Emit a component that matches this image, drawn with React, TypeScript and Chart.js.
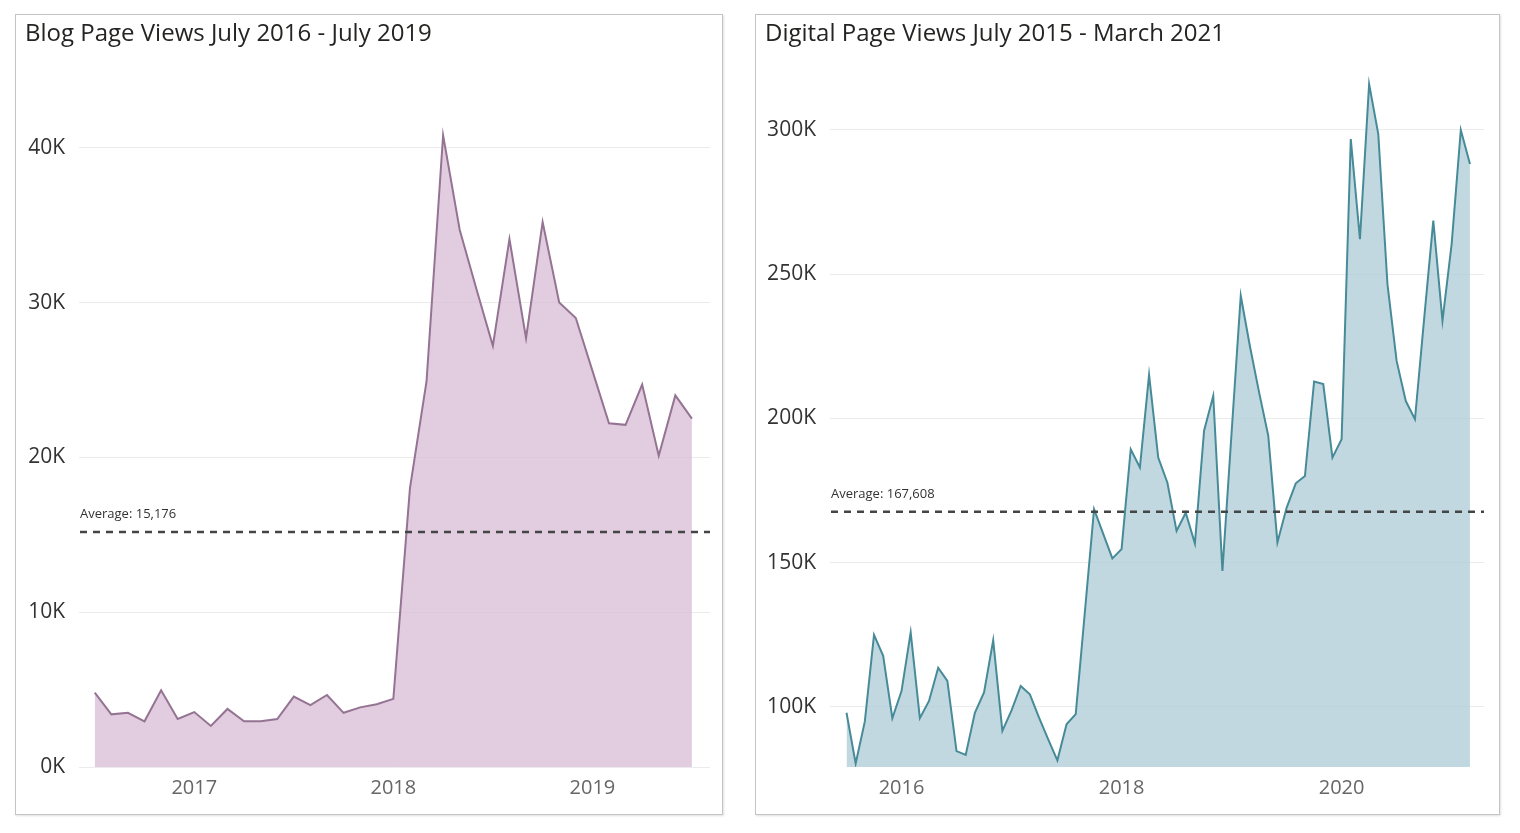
import { useEffect, useRef } from 'react';
import { Chart, registerables, type ChartConfiguration, type Plugin } from 'chart.js';

Chart.register(...registerables);

// Blog page views, one value per month, July 2016 - July 2019
const blogStartYear = 2016;
const blogStartMonth = 7;
const blogViews = [
  4800, 3400, 3500, 2950, 4950, 3100,
  3550, 2650, 3750, 2950, 2950, 3100, 4550, 4000, 4650, 3500, 3850, 4050,
  4400, 18000, 24900, 40800, 34700, 30900, 27200, 34100, 27700, 35200, 30000, 29000,
  25600, 22200, 22100, 24700, 20100, 24000, 22500,
];
const blogAverage = 15176;
const blogYearLabels = ['2017', '2018', '2019'];
const blogYTicks = [0, 10000, 20000, 30000, 40000];

// Digital page views, one value per month, July 2015 - March 2021
const digitalStartYear = 2015;
const digitalStartMonth = 7;
const digitalViews = [
  98000, 80400, 95000, 125000, 117700, 96100,
  105500, 125800, 96100, 102100, 113600, 109000, 84700, 83400, 98000, 105000, 123100, 91700,
  98800, 107300, 104400, 96300, 88800, 81500, 94000, 97500, 133000, 168500, 160000, 151500,
  154700, 189300, 183000, 215100, 186400, 177700, 161000, 167300, 156600, 195700, 207800, 147100,
  195000, 242500, 225000, 209000, 194000, 157000, 169000, 177500, 180000, 212800, 211900, 186400,
  192800, 296800, 262100, 315800, 298500, 246500, 219900, 206000, 199700, 234500, 268500, 233800,
  260400, 299900, 288100,
];
const digitalAverage = 167608;
const digitalYearLabels = ['2016', '2018', '2020'];
const digitalYTicks = [100000, 150000, 200000, 250000, 300000];

const FONT = '"Open Sans", "Noto Sans", sans-serif';

function averageLine(avg: number): Plugin<'line'> {
  return {
    id: 'averageLine',
    afterDatasetsDraw(chart) {
      const { ctx, chartArea } = chart;
      const y = chart.scales.y.getPixelForValue(avg);
      ctx.save();
      ctx.strokeStyle = '#454545';
      ctx.lineWidth = 2.5;
      ctx.setLineDash([7, 6]);
      ctx.beginPath();
      ctx.moveTo(chartArea.left + 1, y);
      ctx.lineTo(chartArea.right, y);
      ctx.stroke();
      ctx.setLineDash([]);
      ctx.fillStyle = '#333';
      ctx.font = `13px ${FONT}`;
      ctx.textBaseline = 'middle';
      ctx.fillText(`Average: ${avg.toLocaleString('en-US')}`, chartArea.left + 1, y - 18);
      ctx.restore();
    },
  };
}

interface PanelProps {
  title: string;
  values: number[];
  startYear: number;
  startMonth: number;
  yearLabels: string[];
  yTicks: number[];
  yMin: number;
  yMax: number;
  xMin: number;
  xMax: number;
  average: number;
  lineColor: string;
  fillColor: string;
  left: number;
  width: number;
  yAxisWidth: number;
  padRight: number;
}

function AreaPanel(p: PanelProps) {
  const canvasRef = useRef<HTMLCanvasElement>(null);

  useEffect(() => {
    if (!canvasRef.current) return;

    const config: ChartConfiguration<'line'> = {
      type: 'line',
      data: {
        datasets: [
          {
            data: p.values.map((v, i) => ({ x: i, y: v })),
            borderColor: p.lineColor,
            backgroundColor: p.fillColor,
            borderWidth: 2,
            fill: 'start',
            pointRadius: 0,
            tension: 0,
          },
        ],
      },
      options: {
        animation: false,
        responsive: true,
        maintainAspectRatio: false,
        layout: { padding: { top: 10, right: p.padRight, left: 0, bottom: 0 } },
        plugins: {
          legend: { display: false },
          tooltip: { enabled: false },
        },
        scales: {
          x: {
            type: 'linear',
            min: p.xMin,
            max: p.xMax,
            grid: { display: false },
            border: { display: false },
            afterBuildTicks: (scale) => {
              scale.ticks = p.yearLabels.map((y) => ({
                value: (Number(y) - p.startYear) * 12 + (1 - p.startMonth),
              }));
            },
            afterFit: (scale) => {
              scale.height = 47;
            },
            ticks: {
              maxRotation: 0,
              padding: 1,
              color: '#666',
              font: { family: FONT, size: 20 },
              callback: (v) => String(p.startYear + Math.round((Number(v) + p.startMonth - 1) / 12)),
            },
          },
          y: {
            min: p.yMin,
            max: p.yMax,
            grid: { color: '#ebebeb', drawTicks: false },
            border: { display: false },
            afterBuildTicks: (scale) => {
              scale.ticks = p.yTicks.map((value) => ({ value }));
            },
            afterFit: (scale) => {
              scale.width = p.yAxisWidth;
            },
            ticks: {
              padding: 14,
              color: '#333',
              font: { family: FONT, size: 21 },
              callback: (v) => `${Number(v) / 1000}K`,
            },
          },
        },
      },
      plugins: [averageLine(p.average)],
    };

    const chart = new Chart(canvasRef.current, config);
    return () => chart.destroy();
  }, []);

  return (
    <div
      style={{
        position: 'absolute',
        left: p.left,
        top: 14,
        width: p.width,
        height: 801,
        boxSizing: 'border-box',
        border: '1px solid #c4c4c4',
        boxShadow: '1px 1px 2px rgba(0,0,0,0.12)',
        background: '#fff',
      }}
    >
      <div style={{ position: 'absolute', left: 0, top: 31, width: p.width - 2, height: 768 }}>
        <canvas ref={canvasRef} />
      </div>
      <div
        style={{
          position: 'absolute',
          left: 9,
          top: 5,
          fontFamily: FONT,
          fontSize: 24,
          lineHeight: '24px',
          color: '#252423',
          whiteSpace: 'nowrap',
        }}
      >
        {p.title}
      </div>
    </div>
  );
}

export default function App() {
  return (
    <div style={{ position: 'absolute', left: 0, top: 0, width: 1520, height: 833, background: '#fff' }}>
      <AreaPanel
        title="Blog Page Views July 2016 - July 2019"
        values={blogViews}
        startYear={blogStartYear}
        startMonth={blogStartMonth}
        yearLabels={blogYearLabels}
        yTicks={blogYTicks}
        yMin={0}
        yMax={44850}
        xMin={-0.95}
        xMax={37.09}
        average={blogAverage}
        lineColor="#957392"
        fillColor="rgba(218, 192, 215, 0.8)"
        left={15}
        width={708}
        yAxisWidth={63}
        padRight={12}
      />
      <AreaPanel
        title="Digital Page Views July 2015 - March 2021"
        values={digitalViews}
        startYear={digitalStartYear}
        startMonth={digitalStartMonth}
        yearLabels={digitalYearLabels}
        yTicks={digitalYTicks}
        yMin={79200}
        yMax={319800}
        xMin={-1.8}
        xMax={69.53}
        average={digitalAverage}
        lineColor="#478b98"
        fillColor="rgba(178, 206, 216, 0.8)"
        left={755}
        width={745}
        yAxisWidth={74}
        padRight={15}
      />
    </div>
  );
}
